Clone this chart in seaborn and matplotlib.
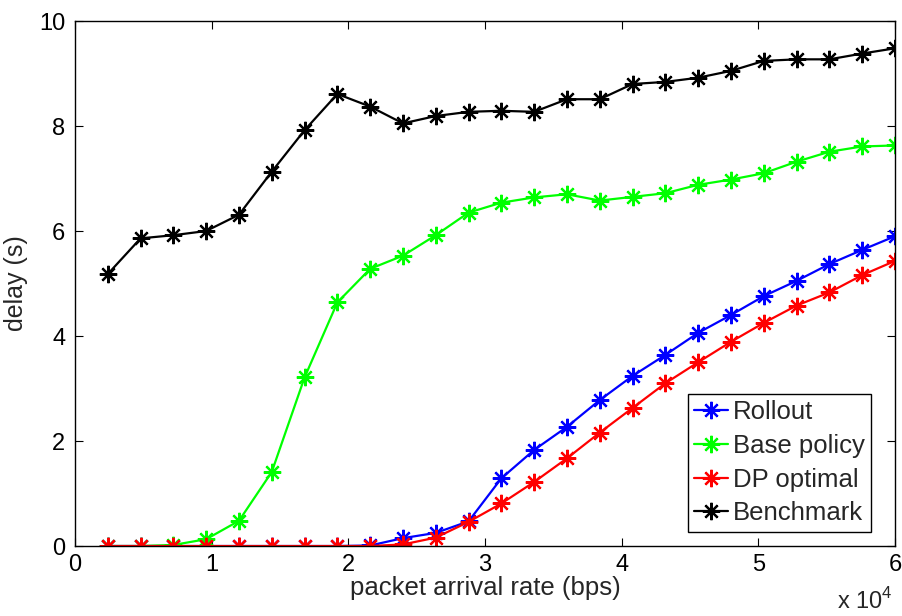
import numpy as np
import pandas as pd
import matplotlib
matplotlib.use("Agg")
import matplotlib.pyplot as plt
import seaborn as sns

# packet arrival rate (bps) and delay (s) per policy
rate_bps = [2400, 4800, 7200, 9600, 12000, 14400, 16800, 19200, 21600, 24000,
            26400, 28800, 31200, 33600, 36000, 38400, 40800, 43200, 45600,
            48000, 50400, 52800, 55200, 57600, 60000]

rollout = [0, 0, 0, 0, 0, 0, 0, 0, 0.01, 0.15, 0.25, 0.47, 1.29, 1.83, 2.27,
           2.78, 3.24, 3.64, 4.06, 4.40, 4.76, 5.05, 5.37, 5.64, 5.90]
base_policy = [0, 0, 0.02, 0.13, 0.48, 1.41, 3.21, 4.64, 5.28, 5.53, 5.92,
               6.35, 6.54, 6.64, 6.70, 6.58, 6.65, 6.72, 6.88, 6.98, 7.10,
               7.32, 7.51, 7.61, 7.63]
dp_optimal = [0, 0, 0, 0, 0, 0, 0, 0, 0, 0.03, 0.16, 0.46, 0.81, 1.22, 1.67,
              2.16, 2.63, 3.10, 3.50, 3.89, 4.25, 4.58, 4.83, 5.16, 5.43]
benchmark = [5.18, 5.86, 5.92, 6.00, 6.31, 7.13, 7.92, 8.61, 8.37, 8.05, 8.19,
             8.27, 8.29, 8.27, 8.51, 8.51, 8.80, 8.84, 8.92, 9.05, 9.24, 9.27,
             9.27, 9.38, 9.48]

series_names = ["Rollout", "Base policy", "DP optimal", "Benchmark"]
series_colors = ["#0000ff", "#00ff00", "#ff0000", "#000000"]
x_ticks = [0, 10000, 20000, 30000, 40000, 50000, 60000]
x_tick_labels = ["0", "1", "2", "3", "4", "5", "6"]
y_ticks = [0, 2, 4, 6, 8, 10]

sns.set_style("ticks")
plt.rcParams["font.family"] = ["Liberation Sans", "DejaVu Sans"]
plt.rcParams["mathtext.fontset"] = "custom"
plt.rcParams["mathtext.rm"] = "Liberation Sans"
plt.rcParams["font.size"] = 18

df = pd.DataFrame({
    "rate": rate_bps * 4,
    "delay": rollout + base_policy + dp_optimal + benchmark,
    "policy": np.repeat(series_names, len(rate_bps)),
})

fig = plt.figure(figsize=(9.02, 6.16), dpi=100)
ax = fig.add_axes([0.0831, 0.1136, 0.9091, 0.8523])

asterisk = (8, 2, 0)
for name, color in zip(series_names, series_colors):
    sub = df[df["policy"] == name]
    sns.lineplot(data=sub, x="rate", y="delay", ax=ax, color=color,
                 marker=asterisk, markersize=12.5, markeredgecolor=color,
                 markeredgewidth=1.6, linewidth=1.6, label=name)

ax.set_xlim(0, 60000)
ax.set_ylim(0, 10)
ax.set_xticks(x_ticks)
ax.set_xticklabels(x_tick_labels)
ax.set_yticks(y_ticks)
ax.tick_params(direction="in", top=True, right=True, length=6, width=0.8,
               labelsize=17, colors="black")
ax.tick_params(axis="x", pad=6)
ax.tick_params(axis="y", pad=7)
for sp in ax.spines.values():
    sp.set_visible(True)
    sp.set_color("black")
    sp.set_linewidth(1.0)

ax.set_xlabel("packet arrival rate (bps)", fontsize=18.5, labelpad=0)
ax.set_ylabel("delay (s)", fontsize=18, labelpad=8)
ax.text(0.997, -0.08, "x 10$^{4}$", transform=ax.transAxes,
        ha="right", va="top", fontsize=17)

leg = ax.legend(loc="lower right", bbox_to_anchor=(0.971, 0.027),
                borderaxespad=0, fontsize=18.5, frameon=True, fancybox=False,
                handlelength=1.3, handletextpad=0.2, labelspacing=0.38,
                borderpad=0.25)
leg.get_frame().set_edgecolor("black")
leg.get_frame().set_linewidth(1.0)
leg.get_frame().set_alpha(1)

fig.savefig("out.png", dpi=100)
